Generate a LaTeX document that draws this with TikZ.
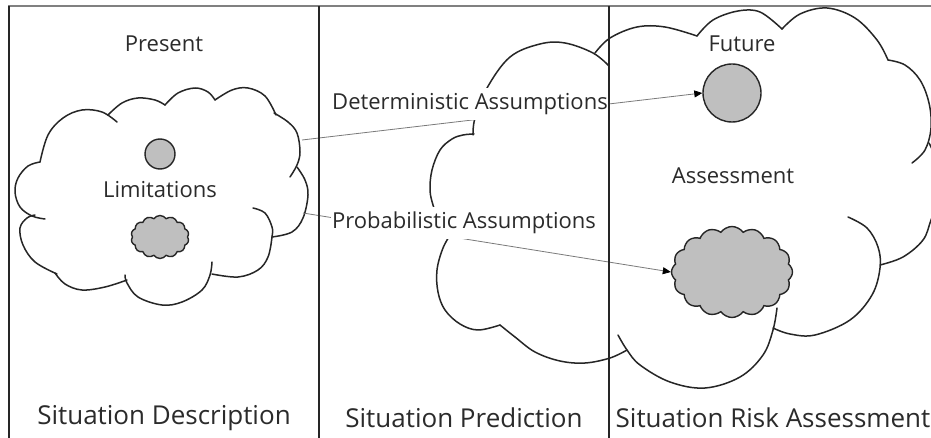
\documentclass[tikz,border=0pt]{standalone}
\usepackage{fontspec}
\setmainfont{Open Sans}
\usetikzlibrary{arrows.meta,shapes.symbols}
\definecolor{ink}{HTML}{262626}
\definecolor{txt}{HTML}{2B2B2B}
\definecolor{wire}{HTML}{7A7A7A}
\definecolor{puff}{HTML}{BFBFBF}
\definecolor{rule}{HTML}{808080}

\begin{document}
\begin{tikzpicture}[x=1pt,y=-1pt,
  outline/.style={draw=ink, line width=1.5pt, line cap=round, line join=round},
  blob/.style={cloud, cloud puffs=#1, cloud puff arc=110, aspect=1.4, draw=ink, line width=1.4pt, fill=puff, inner sep=0pt},
  dot/.style={circle, draw=ink, line width=1.4pt, fill=puff, inner sep=0pt},
  conn/.style={draw=wire, line width=0.8pt, -{Triangle[length=8pt,width=7pt,color=black]}},
  lbl/.style={font=\fontsize{22}{26}\selectfont, text=txt, inner sep=0pt},
  tag/.style={lbl, fill=white, inner xsep=1pt, inner ysep=5pt},
  heading/.style={font=\fontsize{26}{30}\selectfont, text=txt, inner sep=0pt},
  divider/.style={draw=ink, line width=1.4pt},
  topline/.style={draw=rule, line width=2pt},
]
\fill[white, use as bounding box] (0,0) rectangle (931,438);
\clip (0,0) rectangle (931,438);

% ---- Present: outline of the situation cloud ----
\draw[outline] plot[smooth, tension=0.6] coordinates {(40,162) (28,166) (18,178) (15,192) (20,207) (32,216) (45,219)};
\draw[outline] plot[smooth, tension=0.6] coordinates {(40,162) (48,135) (63,118) (82,110) (102,112) (117,122)};
\draw[outline] plot[smooth, tension=0.6] coordinates {(108,115) (122,103) (138,98) (155,100) (165,105)};
\draw[outline] plot[smooth, tension=0.6] coordinates {(165,105) (178,93) (195,88) (208,92) (215,100)};
\draw[outline] plot[smooth, tension=0.6] coordinates {(215,100) (232,90) (248,88) (265,96) (276,115)};
\draw[outline] plot[smooth, tension=0.6] coordinates {(274,113) (288,122) (297,133) (300,152) (297,165) (290,177)};
\draw[outline] plot[smooth, tension=0.6] coordinates {(297,167) (305,180) (308,195) (303,218) (292,232) (272,237)};
\draw[outline] plot[smooth, tension=0.6] coordinates {(253,208) (265,213) (272,227) (272,237) (268,257) (258,270) (238,277) (212,274)};
\draw[outline] plot[smooth, tension=0.6] coordinates {(212,262) (210,275) (202,290) (182,302) (162,305) (138,297) (127,283) (125,275)};
\draw[outline] plot[smooth, tension=0.6] coordinates {(127,280) (105,287) (82,290) (65,284) (55,273)};
\draw[outline] plot[smooth, tension=0.6] coordinates {(57,274) (35,262) (23,245) (20,228) (27,218) (35,215)};

% ---- Future: assessment cloud (drawn behind) ----
\draw[outline] plot[smooth, tension=0.6] coordinates {(595,53) (610,38) (637,27) (665,27) (697,36)};
\draw[outline] plot[smooth, tension=0.6] coordinates {(697,36) (713,20) (738,11) (760,12) (782,29)};
\draw[outline] plot[smooth, tension=0.6] coordinates {(782,29) (800,14) (827,8) (855,18) (877,40) (888,60)};
\draw[outline] plot[smooth, tension=0.6] coordinates {(888,60) (905,65) (920,80) (929,103) (931,128) (925,150) (912,163)};
\draw[outline] plot[smooth, tension=0.6] coordinates {(929,143) (938,165) (940,195) (931,220) (923,240) (903,257) (880,265)};
\draw[outline] plot[smooth, tension=0.6] coordinates {(848,217) (867,228) (878,247) (880,268) (872,295) (850,320) (815,335) (790,334) (773,328)};
\draw[outline] plot[smooth, tension=0.6] coordinates {(777,308) (773,330) (763,355) (740,377) (705,388) (670,382) (640,365) (627,350) (618,335)};

% ---- Prediction cloud ----
\draw[outline] plot[smooth, tension=0.6] coordinates {(473,135) (475,118) (487,88) (510,57) (540,44) (565,43) (593,53) (609,66)};
\draw[outline] plot[smooth, tension=0.6] coordinates {(474,134) (463,135) (452,139) (440,150) (432,170) (430,190) (433,205) (437,215)};
\draw[outline] plot[smooth, tension=0.6] coordinates {(452,232) (443,248) (437,270) (438,292) (445,310) (460,324) (478,330) (500,325)};
\draw[outline] plot[smooth, tension=0.6] coordinates {(500,325) (515,337) (535,352) (560,361) (585,363) (610,358) (627,350)};

% ---- contents of the clouds ----
\node[lbl] (present) at (164,44) {Present};
\node[dot, minimum size=30pt] (limdot) at (160,154) {};
\node[lbl] (limits) at (160,190) {Limitations};
\node[blob=14, minimum width=58pt, minimum height=43pt] (limcloud) at (160,237) {};
\node[lbl] (future) at (742,44) {Future};
\node[dot, minimum size=58pt] (futdot) at (732,93) {};
\node[lbl] (assess) at (733,176) {Assessment};
\node[blob=16, minimum width=121pt, minimum height=91pt] (riskcloud) at (732,272) {};

% ---- assumptions carried forward ----
\coordinate (detsrc) at (302,140);
\coordinate (probsrc) at (303,213);
\draw[conn] (detsrc) -- (futdot.west);
\draw[conn] (probsrc) -- (riskcloud.west);
\node[tag] (detlbl) at (470,104) {Deterministic Assumptions};
\node[tag] (problbl) at (464,223) {Probabilistic Assumptions};

% ---- column frame ----
\draw[topline] (8,6) -- (931,6);
\draw[divider] (9,6) -- (9,438);
\draw[divider] (319,6) -- (319,438);
\draw[divider] (609,6) -- (609,438);

% ---- column headings ----
\node[heading] (hdesc) at (164,418) {Situation Description};
\node[heading] (hpred) at (464,418) {Situation Prediction};
\node[heading] (hrisk) at (773,418) {Situation Risk Assessment};
\end{tikzpicture}
\end{document}
